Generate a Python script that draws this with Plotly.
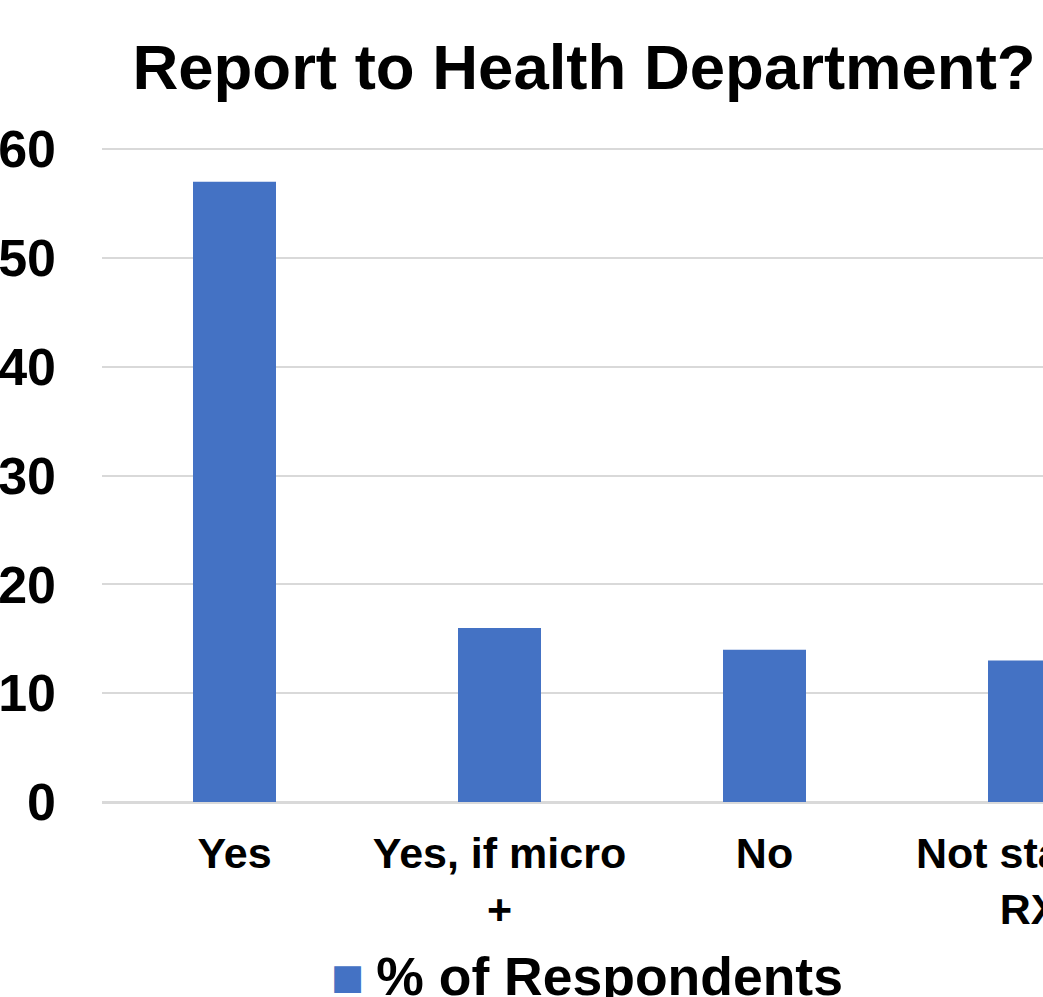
import plotly.graph_objects as go

categories = ["Yes", "Yes, if micro<br>+", "No", "Not started<br>RX"]
values = [57, 16, 14, 13]
series_name = "% of Respondents"
title_text = "Report to Health Department?"
y_ticks = [0, 10, 20, 30, 40, 50, 60]

BAR_COLOR = "#4472C4"
GRID = "#D9D9D9"
FONT = "Liberation Sans, Arial, sans-serif"

fig = go.Figure()
fig.add_trace(go.Bar(
    x=list(range(len(categories))),
    y=values,
    name=series_name,
    marker=dict(color=BAR_COLOR, line=dict(width=0)),
    showlegend=False,
))

W, H = 1043, 997
y_top = 60.1
px_per_unit = (802 - 149) / 60
T = round(802 - y_top * px_per_unit)
L, B = 102, 997 - 802
plot_w = W - L
plot_h = H - T - B
spacing = 265

# legend drawn as a text line with a coloured square
legend_text = ('<span style="font-family:DejaVu Sans;font-size:35px;color:%s;baseline-shift:6px">\u25A0 </span>%s'
               % (BAR_COLOR, series_name))

fig.update_layout(
    width=W, height=H,
    margin=dict(l=L, r=0, t=T, b=B, pad=0, autoexpand=False),
    paper_bgcolor="white", plot_bgcolor="white",
    font=dict(family=FONT, color="black", weight="bold"),
    bargap=1 - 83 / spacing,
    title=dict(
        text=title_text,
        x=584 / W, xanchor="center", xref="container",
        y=1 - 45 / H, yanchor="top", yref="container",
        font=dict(size=63.5, family=FONT, color="black", weight="bold"),
    ),
    annotations=[dict(
        text=legend_text,
        xref="paper", yref="paper",
        x=(329 - L) / plot_w, xanchor="left",
        y=-(945 - 802) / plot_h, yanchor="top",
        showarrow=False,
        font=dict(size=53.5, family=FONT, color="black", weight="bold"),
    )],
    xaxis=dict(
        range=[-0.5, -0.5 + plot_w / spacing],
        tickmode="array",
        tickvals=list(range(len(categories))),
        ticktext=categories,
        tickfont=dict(size=43, family=FONT, color="black", weight="bold"),
        showgrid=False,
        showline=True, linecolor=GRID, linewidth=1.5,
        ticks="",
        ticklabelstandoff=13,
        ticklabeloverflow="allow",
        automargin=False,
    ),
    yaxis=dict(
        range=[0, y_top],
        tickmode="array",
        tickvals=y_ticks,
        tickfont=dict(size=52, family=FONT, color="black", weight="bold"),
        showgrid=True, gridcolor=GRID, gridwidth=1.5,
        zeroline=True, zerolinecolor=GRID, zerolinewidth=1.5,
        showline=False,
        ticks="",
        ticklabelstandoff=45,
        ticklabeloverflow="allow",
        automargin=False,
    ),
)

fig.write_html("out.html")
